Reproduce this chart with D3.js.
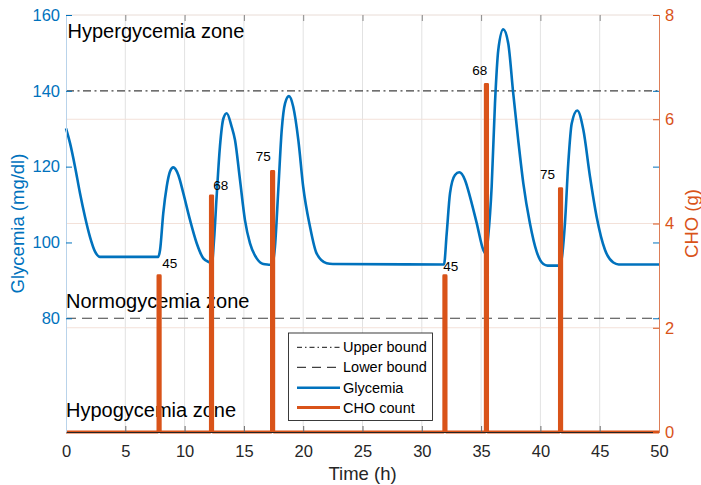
<!DOCTYPE html>
<html><head><meta charset="utf-8">
<script src="https://cdn.jsdelivr.net/npm/d3@7"></script>
<style>
body{margin:0;background:#fff}
svg{display:block;font-family:"Liberation Sans",Arial,Helvetica,sans-serif}
</style>
</head><body>
<svg id="chart" width="701" height="485"></svg>
<script>
// ---- data ----
const glyTimes = [0, 0.34, 0.76, 1.18, 1.6, 2.02, 2.45, 2.87, 3.3, 7.78, 7.93, 8.2, 8.49, 8.77, 9.05, 9.47, 9.89, 10.45, 11.02, 11.58, 12.14, 12.3,
  12.48, 12.7, 12.98, 13.27, 13.55, 13.97, 14.25, 14.67, 15.09, 15.51, 16.08, 16.64, 17.2, 17.4,
  17.62, 17.9, 18.19, 18.47, 18.8, 19.16, 19.59, 20.0, 20.57, 21.13, 21.98, 22.5, 31.87,
  32.1, 32.38, 32.8, 33.16, 33.64, 34.06, 34.63, 35.19, 35.4, 35.6, 35.89, 36.17, 36.45, 36.87, 37.29, 37.71, 38.13, 38.56, 39.12, 39.69, 40.25, 40.6, 41.65,
  42.07, 42.35, 42.64, 43.11, 43.62, 44.18, 44.74, 45.45, 46.15, 46.6, 50];
const glyValues = [130.1, 126.2, 120, 113, 106.8, 101.5, 97.6, 96.2, 96.2, 96.2, 98, 107.7, 114.7, 118.7, 119.8, 117.8, 113, 106, 99.8, 95.8, 94.7, 94.5,
  100.6, 112.1, 125.3, 132.7, 134.1, 130.5, 127, 116.5, 105.9, 99.8, 95.8, 94.3, 94.1, 94.0,
  98.9, 113.9, 129.7, 136.7, 138.6, 135.8, 127, 114.7, 104.2, 97.1, 94.5, 94.3, 94.2,
  102.4, 113, 117.8, 118.5, 116.5, 112.1, 105.1, 98, 97.0, 101.6, 114.7, 136.7, 150.8, 156.2, 152.5, 139.3, 127, 115.6, 105, 97.5, 94.3, 93.9, 93.9,
  105.1, 120.9, 131.4, 134.8, 129.7, 117.4, 106.8, 98, 94.7, 94.2, 94.2];
const choTimes = [7.75, 12.17, 17.32, 31.85, 35.35, 41.6];
const choValues = [3.0, 4.53, 5.0, 3.0, 6.67, 4.67];
const choDuration = 0.2;
const choLabels = ["45", "68", "75", "45", "68", "75"];
const labelTimes = [8.12, 12.42, 15.99, 31.81, 34.26, 39.97];
const labelValues = [3.14, 4.64, 5.19, 3.09, 6.85, 4.85];
const upperBound = 140;
const lowerBound = 80;
const xTicks = [0, 5, 10, 15, 20, 25, 30, 35, 40, 45, 50];
const yLeftTicks = [80, 100, 120, 140, 160];
const yRightTicks = [0, 2, 4, 6, 8];
const zoneNames = ["Hypergycemia zone", "Normogycemia zone", "Hypogycemia zone"];
const zoneTimes = [0.13, 0.0, 0.0];
const zoneGly = [153.9, 82.6, 54.0];
const legendNames = ["Upper bound", "Lower bound", "Glycemia", "CHO count"];

// ---- layout ----
const L = 66, R = 659, T = 15, B = 432;
const BLUE = "#0072BD", ORANGE = "#D95319";
const x = d3.scaleLinear().domain([0, 50]).range([L, R]);
const yL = d3.scaleLinear().domain([50, 160]).range([B, T]);
const yR = d3.scaleLinear().domain([0, 8]).range([B, T]);
const svg = d3.select("#chart");

// grid
svg.append("g").selectAll("line").data(xTicks.filter(d => d > 0 && d < 50)).join("line")
  .attr("x1", d => x(d)).attr("x2", d => x(d)).attr("y1", T).attr("y2", B)
  .attr("stroke", "#e2e2e2").attr("stroke-width", 1);
svg.append("g").selectAll("line").data(yRightTicks.filter(d => d > 0 && d < 8)).join("line")
  .attr("x1", L).attr("x2", R).attr("y1", d => yR(d)).attr("y2", d => yR(d))
  .attr("stroke", "#f3e1d9").attr("stroke-width", 1);
// top border
svg.append("line").attr("x1", L).attr("x2", R).attr("y1", T).attr("y2", T).attr("stroke", "#e9dcd6").attr("stroke-width", 1);

// bounds
svg.append("line").attr("x1", x(0)).attr("x2", x(50)).attr("y1", yL(upperBound)).attr("y2", yL(upperBound))
  .attr("stroke", "#404040").attr("stroke-width", 1.2).attr("stroke-dasharray", "8,3.5,2,3.5");
svg.append("line").attr("x1", x(0)).attr("x2", x(50)).attr("y1", yL(lowerBound)).attr("y2", yL(lowerBound))
  .attr("stroke", "#404040").attr("stroke-width", 1.2).attr("stroke-dasharray", "10,6");

// zone texts
svg.append("g").selectAll("text").data(zoneNames).join("text")
  .attr("x", (d, i) => x(zoneTimes[i])).attr("y", (d, i) => yL(zoneGly[i]))
  .attr("font-size", 20).attr("fill", "#000").text(d => d);

// glycemia
const gly = glyTimes.map((t, i) => [t, glyValues[i]]);
svg.append("path").datum(gly)
  .attr("d", d3.line().x(d => x(d[0])).y(d => yL(d[1])).curve(d3.curveMonotoneX))
  .attr("fill", "none").attr("stroke", BLUE).attr("stroke-width", 2.6).attr("stroke-linejoin", "round");

// CHO
const cho = [[0, 0]];
choTimes.forEach((t, i) => { cho.push([t, 0], [t, choValues[i]], [t + choDuration, choValues[i]], [t + choDuration, 0]); });
cho.push([50, 0]);
svg.append("path").datum(cho)
  .attr("d", d3.line().x(d => x(d[0])).y(d => yR(d[1])))
  .attr("fill", "none").attr("stroke", ORANGE).attr("stroke-width", 2.8).attr("stroke-linejoin", "round");

svg.append("g").selectAll("text").data(choLabels).join("text")
  .attr("x", (d, i) => x(labelTimes[i])).attr("y", (d, i) => yR(labelValues[i]))
  .attr("font-size", 13.5).attr("fill", "#000").text(d => d);

// axes
function style(g, col, lineCol) {
  g.select(".domain").attr("stroke", lineCol).attr("stroke-width", 1);
  g.selectAll(".tick line").attr("stroke", col).attr("stroke-width", 1);
  g.selectAll(".tick text").attr("fill", col).attr("font-size", 16.5).attr("font-family", "Liberation Sans, Arial, sans-serif");
}
const gb = svg.append("g").attr("transform", `translate(0,${B})`)
  .call(d3.axisBottom(x).tickValues(xTicks).tickSize(-6).tickSizeOuter(0).tickPadding(13));
style(gb, "#262626", "#262626");
gb.selectAll(".tick line").attr("stroke", "#6b6b6b");
const gt = svg.append("g").attr("transform", `translate(0,${T})`)
  .call(d3.axisTop(x).tickValues(xTicks).tickSize(-6).tickSizeOuter(0).tickFormat(""));
gt.select(".domain").remove();
gt.selectAll(".tick line").attr("stroke", "#8a8a8a");

const gl = svg.append("g").attr("transform", `translate(${L},0)`)
  .call(d3.axisLeft(yL).tickValues(yLeftTicks).tickSize(-6).tickSizeOuter(0).tickPadding(6));
style(gl, BLUE, "#b9d3ea");
const glr = svg.append("g").attr("transform", `translate(${R},0)`)
  .call(d3.axisRight(yL).tickValues(yLeftTicks).tickSize(-6).tickSizeOuter(0).tickFormat(""));
glr.select(".domain").remove();
glr.selectAll(".tick line").attr("stroke", BLUE);
const gr = svg.append("g").attr("transform", `translate(${R},0)`)
  .call(d3.axisRight(yR).tickValues(yRightTicks).tickSize(-6).tickSizeOuter(0).tickPadding(6));
style(gr, ORANGE, "#dd7e58");

// axis labels
svg.append("text").attr("transform", `translate(24,${(T + B) / 2}) rotate(-90)`)
  .attr("text-anchor", "middle").attr("font-size", 18.5).attr("fill", BLUE).text("Glycemia (mg/dl)");
svg.append("text").attr("transform", `translate(698,${(T + B) / 2}) rotate(-90)`)
  .attr("text-anchor", "middle").attr("font-size", 18.5).attr("fill", ORANGE).text("CHO (g)");
svg.append("text").attr("x", (L + R) / 2).attr("y", 480)
  .attr("text-anchor", "middle").attr("font-size", 18.5).attr("fill", "#262626").text("Time (h)");

// legend
const lg = svg.append("g");
lg.append("rect").attr("x", 288.5).attr("y", 333).attr("width", 144).attr("height", 87.5)
  .attr("fill", "#fff").attr("stroke", "#262626").attr("stroke-width", 0.9);
const legStyles = [
  {c: "#404040", w: 1.2, d: "5,3,1.5,3"},
  {c: "#404040", w: 1.2, d: "9,6"},
  {c: BLUE, w: 2.6, d: null},
  {c: ORANGE, w: 2.8, d: null}];
const rowY = [347.3, 367.3, 387.7, 407.5];
legendNames.forEach((name, i) => {
  lg.append("line").attr("x1", 297).attr("x2", 340).attr("y1", rowY[i]).attr("y2", rowY[i])
    .attr("stroke", legStyles[i].c).attr("stroke-width", legStyles[i].w)
    .attr("stroke-dasharray", legStyles[i].d);
  lg.append("text").attr("x", 343).attr("y", rowY[i]).attr("dy", "0.35em")
    .attr("font-size", 14.5).attr("fill", "#000").text(name);
});
</script>
</body></html>
